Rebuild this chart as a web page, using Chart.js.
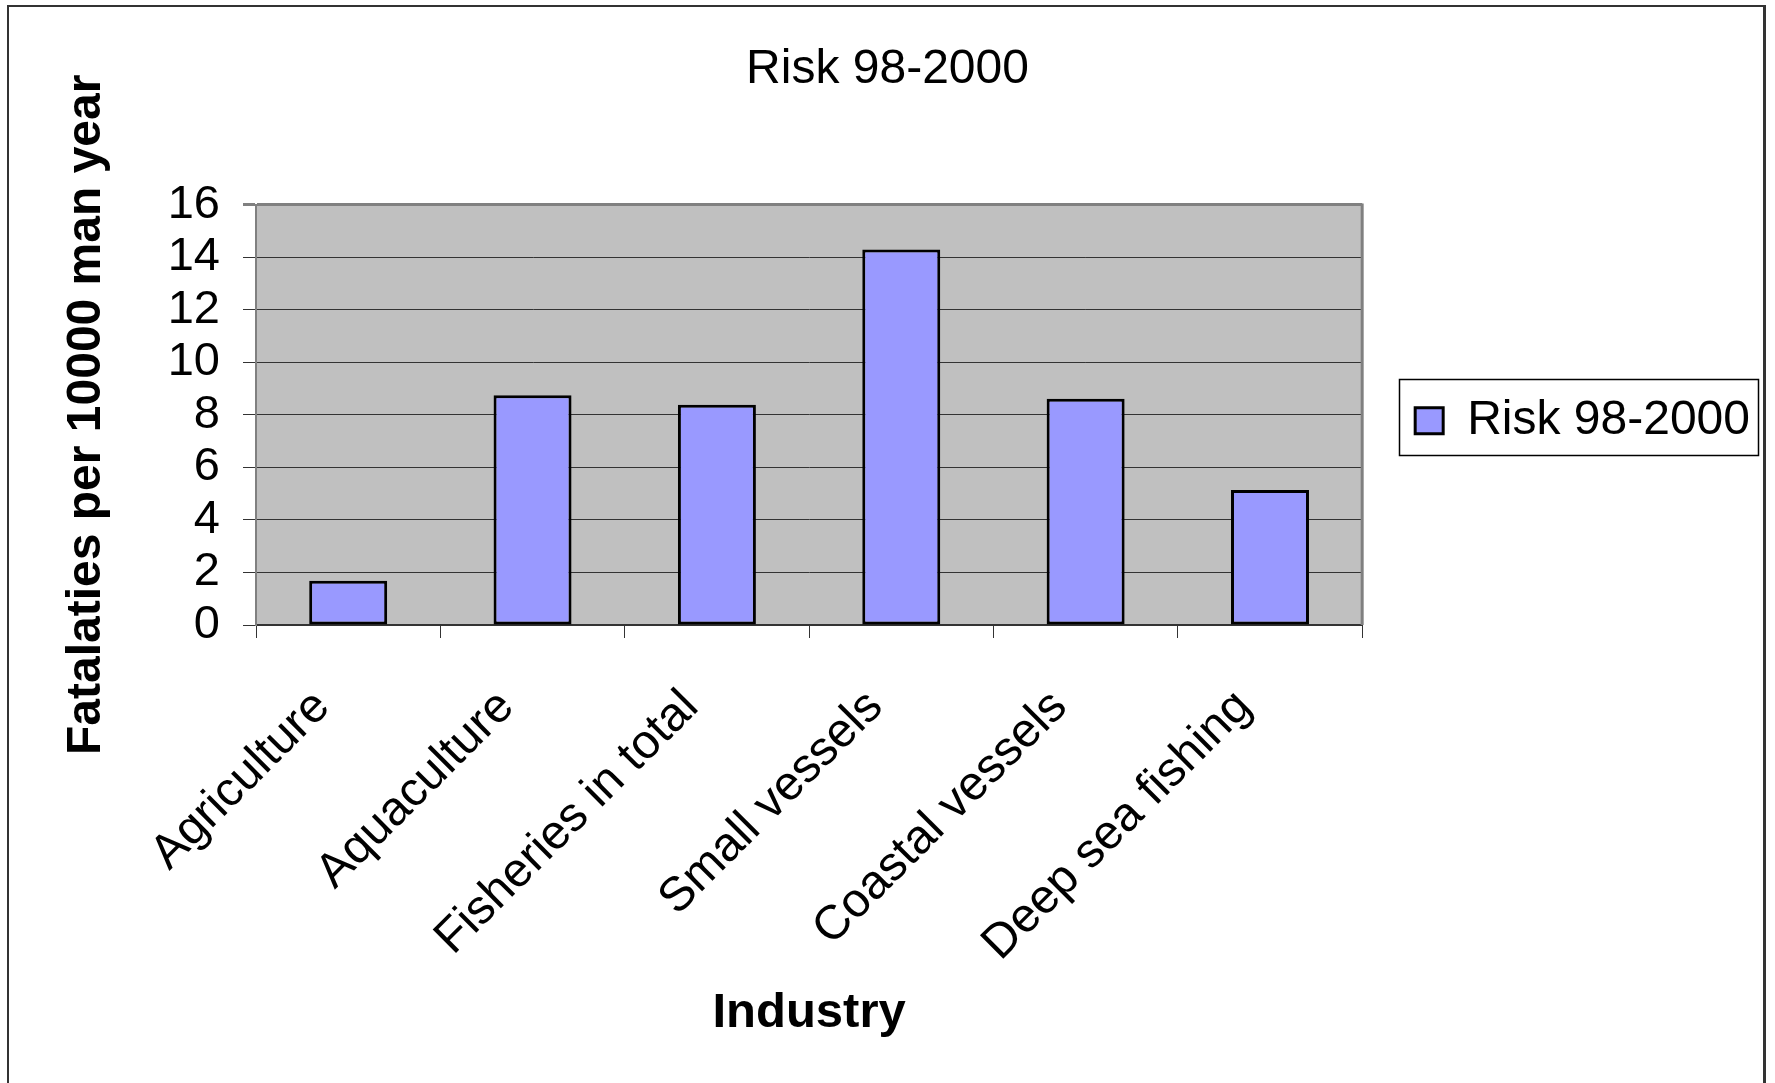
<!DOCTYPE html>
<html>
<head>
<meta charset="utf-8">
<title>Risk 98-2000</title>
<script src="https://cdn.jsdelivr.net/npm/chart.js@4.4.1/dist/chart.umd.min.js"></script>
<style>
  html, body { margin: 0; padding: 0; background: #ffffff; overflow: hidden; }
  #wrap { position: relative; width: 1775px; height: 1083px; }
  #chart { position: absolute; left: 0; top: 0; }
  #frame {
    position: absolute; left: 7px; top: 5px; width: 1759px; height: 1100px;
    border: 2px solid #333333; border-right-width: 3px; box-sizing: border-box;
    pointer-events: none;
  }
</style>
</head>
<body>
<div id="wrap">
  <canvas id="chart" width="1775" height="1083"></canvas>
  <div id="frame"></div>
</div>
<script>
// Industries on the category axis
const categories = [
  'Agriculture',
  'Aquaculture',
  'Fisheries in total',
  'Small vessels',
  'Coastal vessels',
  'Deep sea fishing'
];

// Fatalities per 10000 man-years, 1998-2000
const seriesName = 'Risk 98-2000';
const riskValues = [1.68, 8.74, 8.38, 14.29, 8.61, 5.14];

// Value axis ticks
const yMin = 0;
const yMax = 16;
const yStep = 2;

const chartTitle = 'Risk 98-2000';
const xAxisTitle = 'Industry';
const yAxisTitle = 'Fatalaties per 10000 man year';

const FONT = "'Liberation Sans', Arial, Helvetica, sans-serif";
Chart.defaults.font.family = FONT;
Chart.defaults.color = '#000000';

// Grey plot area plus the right-hand edge of the plot frame
const plotBackground = {
  id: 'plotBackground',
  beforeDraw(chart) {
    const { ctx, chartArea: a } = chart;
    ctx.save();
    ctx.fillStyle = '#C0C0C0';
    ctx.fillRect(a.left, a.top, a.right - a.left, a.bottom - a.top);
    ctx.restore();
  },
  beforeDatasetsDraw(chart) {
    const { ctx, chartArea: a } = chart;
    ctx.save();
    ctx.strokeStyle = '#808080';
    ctx.lineWidth = 3;
    ctx.beginPath();
    ctx.moveTo(a.right, a.top - 1);
    ctx.lineTo(a.right, a.bottom);
    ctx.stroke();
    ctx.restore();
  }
};

// Thin box drawn around the legend entry
const legendFrame = {
  id: 'legendFrame',
  afterDraw(chart) {
    const lg = chart.legend;
    if (!lg || !lg.legendHitBoxes || !lg.legendHitBoxes.length) return;
    const hb = lg.legendHitBoxes[0];
    const cy = hb.top + hb.height / 2 - 4;
    const left = hb.left - 16;
    const right = hb.left + hb.width + 8;
    const { ctx } = chart;
    ctx.save();
    ctx.strokeStyle = '#000000';
    ctx.lineWidth = 1.5;
    ctx.strokeRect(Math.round(left) + 0.5, Math.round(cy - 38) + 0.5, Math.round(right - left), 76);
    ctx.restore();
  }
};

new Chart(document.getElementById('chart'), {
  type: 'bar',
  data: {
    labels: categories,
    datasets: [{
      label: seriesName,
      data: riskValues,
      backgroundColor: '#9999FF',
      borderColor: '#000000',
      borderWidth: 3,
      borderSkipped: false,
      barPercentage: 0.423,
      categoryPercentage: 1.0
    }]
  },
  options: {
    responsive: false,
    devicePixelRatio: 1,
    animation: false,
    layout: { padding: { left: 15, top: 0, right: 15, bottom: 0 } },
    plugins: {
      title: {
        display: true,
        text: chartTitle,
        color: '#000000',
        font: { family: FONT, size: 48, weight: 'normal' },
        padding: { top: 41, bottom: 106 }
      },
      legend: {
        display: true,
        position: 'right',
        fullSize: false,
        align: 'center',
        title: {
          display: true,
          text: '',
          padding: 0,
          font: { family: FONT, size: 10, lineHeight: 1.2 }
        },
        labels: {
          boxWidth: 28,
          boxHeight: 26,
          padding: 53,
          color: '#000000',
          font: { family: FONT, size: 48 }
        }
      },
      tooltip: { enabled: false }
    },
    scales: {
      x: {
        offset: true,
        grid: {
          offset: true,
          drawOnChartArea: false,
          drawTicks: true,
          tickLength: 13,
          color: '#333333',
          lineWidth: 1
        },
        border: { display: true, color: '#333333', width: 2 },
        ticks: {
          autoSkip: false,
          minRotation: 45,
          maxRotation: 45,
          labelOffset: -26,
          padding: 41,
          color: '#000000',
          font: { family: FONT, size: 48 }
        },
        title: {
          display: true,
          text: xAxisTitle,
          color: '#000000',
          font: { family: FONT, size: 49, weight: 'bold' },
          padding: { top: 0, bottom: 40 }
        },
        afterFit(scale) { scale.height = 458; }
      },
      y: {
        min: yMin,
        max: yMax,
        ticks: {
          stepSize: yStep,
          autoSkip: false,
          padding: 23,
          color: '#000000',
          font: { family: FONT, size: 47 }
        },
        grid: {
          drawTicks: true,
          tickLength: 13,
          color: (c) => (c.tick && c.tick.value === yMax ? '#808080' : '#333333'),
          lineWidth: (c) => (c.tick && c.tick.value === yMax ? 3 : 1)
        },
        border: { display: true, color: '#808080', width: 2 },
        title: {
          display: true,
          text: yAxisTitle,
          color: '#000000',
          font: { family: FONT, size: 48, weight: 'bold' },
          padding: { top: 43, bottom: 0 }
        },
        afterFit(scale) { scale.width = 241; }
      }
    }
  },
  plugins: [plotBackground, legendFrame]
});
</script>
</body>
</html>
